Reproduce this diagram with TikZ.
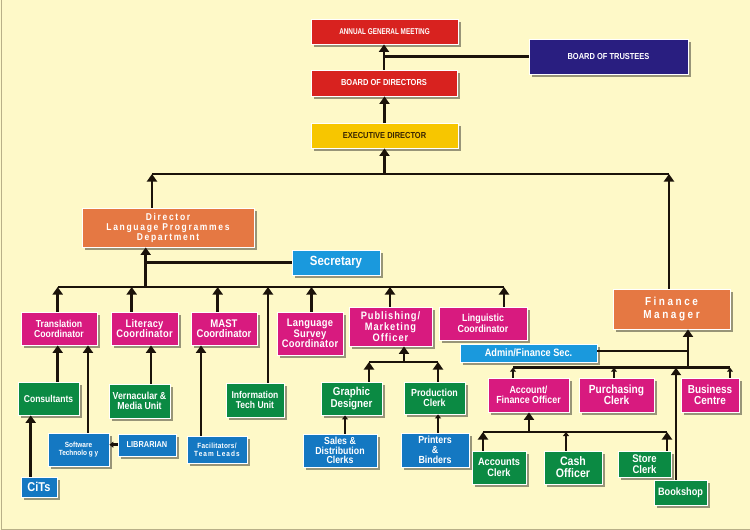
\documentclass[tikz,border=0pt]{standalone}
\usepackage{fontspec}
\usepackage{graphicx}
\setmainfont{Liberation Sans}[FakeStretch=0.86]
\usetikzlibrary{arrows.meta,shadows}
\definecolor{bg}{HTML}{FEF9C8}
\definecolor{bordc}{HTML}{B8B088}
\definecolor{lc}{HTML}{1B130A}
\definecolor{cred}{HTML}{D8221F}
\definecolor{cnavy}{HTML}{291E80}
\definecolor{cyel}{HTML}{F7C600}
\definecolor{cyeltext}{HTML}{3A2600}
\definecolor{corange}{HTML}{E57843}
\definecolor{cmag}{HTML}{D81A7F}
\definecolor{cgreen}{HTML}{0B8A43}
\definecolor{cblue}{HTML}{1A99DD}
\definecolor{cblueb}{HTML}{1478C2}
\newcommand\fsz[2]{\fontsize{#1}{#2}\selectfont\lineskiplimit=-20pt\relax}
\newcommand\lsp[1]{\addfontfeature{LetterSpace=#1}}
\tikzset{
  box/.style={draw=white, line width=0.8pt, inner sep=0pt, align=center, text=white,
    drop shadow={shadow xshift=2.5pt, shadow yshift=-2.5pt, fill=black, opacity=0.4}},
  ln/.style={draw=lc, line width=2.5pt},
  arr/.style={ln, -{Triangle[width=10pt,length=7.5pt]}},
  sarr/.style={ln, -{Triangle[width=6pt,length=4pt]}},
  bordline/.style={draw=bordc, line width=1pt}
}
\begin{document}
\begin{tikzpicture}[x=1pt,y=-1pt]
\useasboundingbox (0,0) rectangle (750,530);
\fill[bg] (0,0) rectangle (750,530);
\draw[bordline] (1,0) -- (1,529) -- (750,529);

% top
\node[box, fill=cred, minimum width=147pt, minimum height=25pt, font={\bfseries\fsz{8.4}{9}}] (agm) at (384.5,31.5) {\scalebox{0.88}[1]{ANNUAL GENERAL MEETING}};
\node[box, fill=cnavy, minimum width=159pt, minimum height=35pt, font={\bfseries\fsz{8.7}{10}}] (bot) at (608.5,56.5) {BOARD OF TRUSTEES};
\node[box, fill=cred, minimum width=146pt, minimum height=26pt, font={\bfseries\fsz{8.7}{10}}] (bod) at (384,83) {BOARD OF DIRECTORS};
\node[box, fill=cyel, minimum width=147pt, minimum height=25pt, text=cyeltext, font={\bfseries\fsz{8.7}{10}}] (ed) at (384.5,135.5) {EXECUTIVE DIRECTOR};

% second level
\node[box, fill=corange, minimum width=172pt, minimum height=39pt, font={\bfseries\fsz{9.9}{10}\lsp{17}}] (dir) at (168,227.5) {Director\\Language Programmes\\Department};
\node[box, fill=corange, minimum width=117pt, minimum height=40pt, font={\bfseries\fsz{11.6}{12.5}\lsp{22}}] (fm) at (671.5,309) {Finance\\Manager};
\node[box, fill=cblue, minimum width=88pt, minimum height=25pt, font={\bfseries\fsz{13.3}{14}}] (sec) at (336,262.5) {Secretary};

% coordinators
\node[box, fill=cmag, minimum width=76pt, minimum height=33pt, font={\bfseries\fsz{10.1}{10}}] (trans) at (59,328.5) {Translation\\Coordinator};
\node[box, fill=cmag, minimum width=67pt, minimum height=33pt, font={\bfseries\fsz{10.9}{10.5}\lsp{2.6}}] (lit) at (144.5,328.5) {Literacy\\Coordinator};
\node[box, fill=cmag, minimum width=66pt, minimum height=33pt, font={\bfseries\fsz{11.1}{10.5}}] (mast) at (224,328.5) {MAST\\Coordinator};
\node[box, fill=cmag, minimum width=66pt, minimum height=43pt, font={\bfseries\fsz{10.9}{10.5}\lsp{2.6}}] (lsc) at (310,333.5) {Language\\Survey\\Coordinator};
\node[box, fill=cmag, minimum width=83pt, minimum height=39pt, font={\bfseries\fsz{10.8}{10.7}\lsp{8.6}}] (pub) at (390.5,326.5) {Publishing/\\Marketing\\Officer};
\node[box, fill=cmag, minimum width=88pt, minimum height=33pt, font={\bfseries\fsz{10.3}{10.5}}] (ling) at (483,323.5) {Linguistic\\Coordinator};

% finance
\node[box, fill=cblue, minimum width=137pt, minimum height=18pt, font={\bfseries\fsz{10.7}{11}}] (afs) at (528.5,353) {Admin/Finance Sec.};
\node[box, fill=cmag, minimum width=81pt, minimum height=34pt, font={\bfseries\fsz{10.3}{10.5}}] (afo) at (528.5,395) {Account/\\Finance Officer};
\node[box, fill=cmag, minimum width=75pt, minimum height=34pt, font={\bfseries\fsz{11.8}{11.5}}] (pc) at (616.5,395) {Purchasing\\Clerk};
\node[box, fill=cmag, minimum width=58pt, minimum height=34pt, font={\bfseries\fsz{11.6}{11.5}}] (bc) at (710,395) {Business\\Centre};

% third level
\node[box, fill=cgreen, minimum width=61pt, minimum height=33pt, font={\bfseries\fsz{9.9}{10}}] (cons) at (48.5,398.5) {Consultants};
\node[box, fill=cgreen, minimum width=61pt, minimum height=34pt, font={\bfseries\fsz{10.2}{10.5}}] (vmu) at (139.5,401) {Vernacular \&\\Media Unit};
\node[box, fill=cgreen, minimum width=58pt, minimum height=34pt, font={\bfseries\fsz{9.9}{9.8}}] (itu) at (255,400) {Information\\Tech Unit};
\node[box, fill=cgreen, minimum width=61pt, minimum height=33pt, font={\bfseries\fsz{11.4}{11.2}}] (gd) at (351.5,398.5) {Graphic\\Designer};
\node[box, fill=cgreen, minimum width=61pt, minimum height=32pt, font={\bfseries\fsz{10.3}{10}}] (prc) at (434.5,398) {Production\\Clerk};

% fourth level
\node[box, fill=cblueb, minimum width=61pt, minimum height=33pt, font={\bfseries\fsz{7.5}{8.5}}] (st) at (78.5,449.5) {Software\\Technolo g y};
\node[box, fill=cblueb, minimum width=58pt, minimum height=22pt, font={\bfseries\fsz{8.6}{9}}] (lib) at (147,445) {LIBRARIAN};
\node[box, fill=cblueb, minimum width=60pt, minimum height=27pt, font={\bfseries\fsz{7.5}{8}}] (fac) at (217,449.5) {{\lsp{3.4}Facilitators/}\\{\lsp{14.7}Team Leads}};
\node[box, fill=cblueb, minimum width=36pt, minimum height=20pt, font={\bfseries\fsz{12.8}{13}}] (cits) at (39,487) {CiTs};
\node[box, fill=cblueb, minimum width=74pt, minimum height=33pt, font={\bfseries\fsz{10.2}{9.7}}] (sdc) at (340,450.5) {Sales \&\\Distribution\\Clerks};
\node[box, fill=cblueb, minimum width=68pt, minimum height=34pt, font={\bfseries\fsz{10.3}{10}}] (pnb) at (435,450) {Printers\\\&\\Binders};
\node[box, fill=cgreen, minimum width=54pt, minimum height=33pt, font={\bfseries\fsz{10.7}{10.5}}] (ac) at (499,467.5) {Accounts\\Clerk};
\node[box, fill=cgreen, minimum width=58pt, minimum height=33pt, font={\bfseries\fsz{12.3}{12}}] (co) at (573,467.5) {Cash\\Officer};
\node[box, fill=cgreen, minimum width=53pt, minimum height=26pt, font={\bfseries\fsz{11.1}{11}}] (sc) at (644.5,464) {Store\\Clerk};
\node[box, fill=cgreen, minimum width=53pt, minimum height=25pt, font={\bfseries\fsz{10.7}{11}}] (bs) at (680.5,492.5) {Bookshop};

% reference columns / rows
\coordinate (yB1) at (0,174);
\coordinate (yB2) at (0,287);
\coordinate (yBP) at (0,362);
\coordinate (yBF) at (0,367.7);
\coordinate (yBA) at (0,432);
\coordinate (yAFS) at (0,351);
\coordinate (yLib) at (0,444.7);
\coordinate (ySec) at (0,262.7);
\coordinate (cDirU) at (152,0);
\coordinate (cFMU) at (669,0);
\coordinate (cDirD) at (145.7,0);
\coordinate (cT) at (57.7,0);
\coordinate (cST) at (88,0);
\coordinate (cLit) at (131.7,0);
\coordinate (cVMU) at (151,0);
\coordinate (cMast) at (217.7,0);
\coordinate (cFac) at (201,0);
\coordinate (cITU) at (268,0);
\coordinate (cLSC) at (311.5,0);
\coordinate (cPub) at (390,0);
\coordinate (cLing) at (504,0);
\coordinate (cCiTs) at (30.7,0);
\coordinate (cPubD) at (404,0);
\coordinate (cGD) at (369,0);
\coordinate (cPRC) at (438,0);
\coordinate (cSDC) at (345,0);
\coordinate (cPNB) at (438,0);
\coordinate (cFMD) at (688,0);
\coordinate (cAFO) at (513,0);
\coordinate (cPC) at (614,0);
\coordinate (cBC) at (730,0);
\coordinate (cBS) at (676,0);
\coordinate (cAFOD) at (529,0);
\coordinate (cAC) at (483,0);
\coordinate (cCO) at (566,0);
\coordinate (cSC) at (667,0);

% top connectors
\draw[arr] (bod.north) -- (bod.north |- agm.south);
\draw[ln] (bot.west) -- (bot.west -| bod.north);
\draw[arr] (ed.north) -- (ed.north |- bod.south);
\draw[ln] (cDirU |- yB1) -- (cFMU |- yB1);
\draw[arr] (ed.south |- yB1) -- (ed.south);
\draw[arr] (dir.north -| cDirU) -- (cDirU |- yB1);
\draw[arr] (fm.north -| cFMU) -- (cFMU |- yB1);

% director
\draw[arr] (cDirD |- yB2) -- (dir.south -| cDirD);
\draw[ln] (cDirD |- ySec) -- (sec.west |- ySec);
\draw[ln] (cT |- yB2) -- (cLing |- yB2);
\draw[arr] (trans.north -| cT) -- (cT |- yB2);
\draw[arr] (lit.north -| cLit) -- (cLit |- yB2);
\draw[arr] (mast.north -| cMast) -- (cMast |- yB2);
\draw[arr] (itu.north -| cITU) -- (cITU |- yB2);
\draw[arr] (lsc.north -| cLSC) -- (cLSC |- yB2);
\draw[arr] (pub.north -| cPub) -- (cPub |- yB2);
\draw[arr] (ling.north -| cLing) -- (cLing |- yB2);

% left branches
\draw[arr] (cons.north -| cT) -- (trans.south -| cT);
\draw[arr] (st.north -| cST) -- (trans.south -| cST);
\draw[arr] (vmu.north -| cVMU) -- (lit.south -| cVMU);
\draw[arr] (fac.north -| cFac) -- (mast.south -| cFac);
\draw[arr] (cits.north -| cCiTs) -- (cons.south -| cCiTs);
\draw[sarr] (lib.west |- yLib) -- (st.east |- yLib);

% publishing
\draw[arr] (cPubD |- yBP) -- (pub.south -| cPubD);
\draw[ln] (cGD |- yBP) -- (cPRC |- yBP);
\draw[arr] (gd.north -| cGD) -- (cGD |- yBP);
\draw[arr] (prc.north -| cPRC) -- (cPRC |- yBP);
\draw[sarr] (sdc.north -| cSDC) -- (gd.south -| cSDC);
\draw[sarr] (pnb.north -| cPNB) -- (prc.south -| cPNB);

% finance
\draw[ln] (cAFO |- yBF) -- (cBC |- yBF);
\draw[arr] (cFMD |- yBF) -- (fm.south -| cFMD);
\draw[ln] (afs.east |- yAFS) -- (cFMD |- yAFS);
\draw[sarr] (afo.north -| cAFO) -- (cAFO |- yBF);
\draw[sarr] (pc.north -| cPC) -- (cPC |- yBF);
\draw[sarr] (bc.north -| cBC) -- (cBC |- yBF);
\draw[arr] (bs.north -| cBS) -- (cBS |- yBF);

% accounts
\draw[arr] (cAFOD |- yBA) -- (afo.south -| cAFOD);
\draw[ln] (cAC |- yBA) -- (cSC |- yBA);
\draw[arr] (ac.north -| cAC) -- (cAC |- yBA);
\draw[sarr] (co.north -| cCO) -- (cCO |- yBA);
\draw[arr] (sc.north -| cSC) -- (cSC |- yBA);
\end{tikzpicture}
\end{document}
